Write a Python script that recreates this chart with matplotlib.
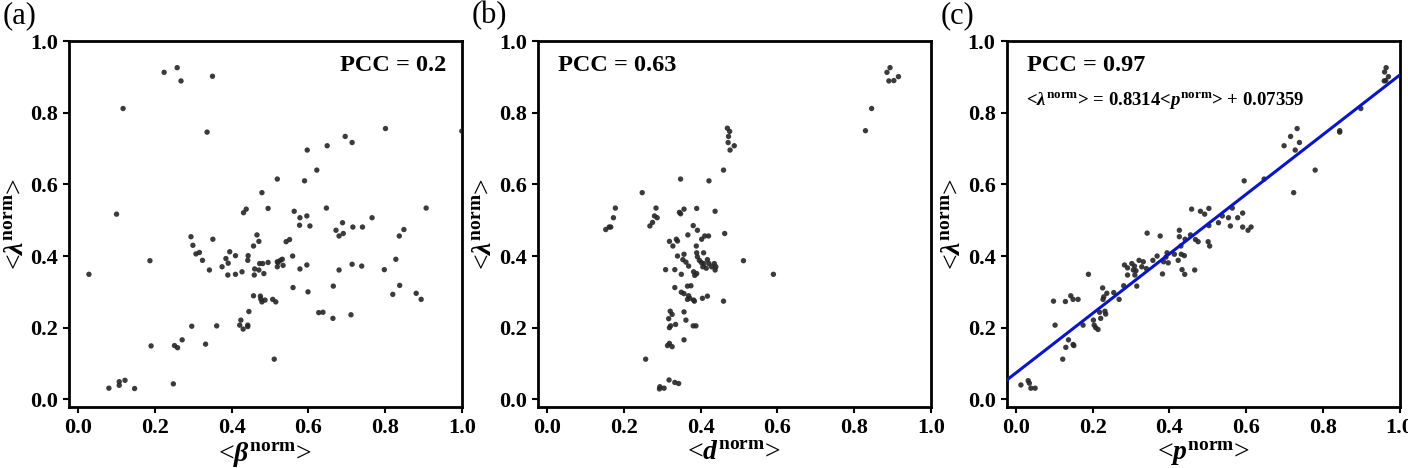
import numpy as np
import matplotlib
matplotlib.use("Agg")
import matplotlib.pyplot as plt

plt.rcParams['font.family'] = ['Liberation Serif', 'DejaVu Serif']
plt.rcParams['font.weight'] = 'bold'
plt.rcParams['mathtext.fontset'] = 'custom'
plt.rcParams['mathtext.rm'] = 'Liberation Serif:bold'
plt.rcParams['mathtext.it'] = 'Liberation Serif:bold:italic'
plt.rcParams['mathtext.bf'] = 'Liberation Serif:bold'

# panel (a): <beta_norm> vs <lambda_norm>
beta_a = [0.224, 0.258, 0.268, 0.350, 0.117, 0.336, 0.801, 1.000, 0.696, 0.714,
          0.597, 0.649, 0.622, 0.590, 0.519, 0.479, 0.100, 0.495, 0.438, 0.431,
          0.563, 0.596, 0.578, 0.647, 0.907, 0.766, 0.577, 0.604, 0.672, 0.689,
          0.716, 0.741, 0.680, 0.691, 0.837, 0.849, 0.294, 0.351, 0.299, 0.307,
          0.316, 0.324, 0.342, 0.187, 0.028, 0.375, 0.385, 0.391, 0.395, 0.390,
          0.410, 0.410, 0.427, 0.443, 0.442, 0.457, 0.466, 0.471, 0.459, 0.460,
          0.471, 0.473, 0.481, 0.484, 0.495, 0.457, 0.475, 0.476, 0.479, 0.487,
          0.507, 0.515, 0.519, 0.519, 0.527, 0.532, 0.534, 0.521, 0.542, 0.551,
          0.559, 0.560, 0.578, 0.596, 0.599, 0.627, 0.638, 0.665, 0.664, 0.680,
          0.711, 0.714, 0.739, 0.798, 0.828, 0.820, 0.838, 0.881, 0.894, 0.445,
          0.424, 0.421, 0.430, 0.442, 0.442, 0.361, 0.296, 0.332, 0.271, 0.251,
          0.259, 0.190, 0.511, 0.248, 0.080, 0.107, 0.107, 0.122, 0.147]
lam_a = [0.913, 0.926, 0.889, 0.902, 0.812, 0.746, 0.756, 0.749, 0.734, 0.717,
         0.696, 0.708, 0.640, 0.610, 0.615, 0.577, 0.517, 0.533, 0.531, 0.521,
         0.525, 0.512, 0.507, 0.534, 0.534, 0.507, 0.486, 0.484, 0.472, 0.493,
         0.481, 0.481, 0.456, 0.463, 0.456, 0.474, 0.454, 0.447, 0.430, 0.406,
         0.410, 0.388, 0.361, 0.387, 0.349, 0.370, 0.393, 0.380, 0.412, 0.347,
         0.401, 0.349, 0.356, 0.401, 0.388, 0.428, 0.459, 0.441, 0.347, 0.364,
         0.361, 0.379, 0.379, 0.351, 0.382, 0.289, 0.288, 0.280, 0.272, 0.277,
         0.279, 0.272, 0.384, 0.370, 0.388, 0.391, 0.374, 0.382, 0.440, 0.446,
         0.400, 0.312, 0.364, 0.375, 0.300, 0.242, 0.243, 0.316, 0.226, 0.361,
         0.236, 0.377, 0.372, 0.362, 0.391, 0.293, 0.318, 0.296, 0.279, 0.245,
         0.221, 0.207, 0.196, 0.207, 0.203, 0.205, 0.204, 0.154, 0.166, 0.150,
         0.144, 0.149, 0.112, 0.043, 0.031, 0.049, 0.039, 0.053, 0.030]

# panel (b): <d_norm> vs <lambda_norm>
d_b = [0.886, 0.894, 0.891, 0.904, 0.916, 0.846, 0.830, 0.470, 0.476, 0.473,
       0.472, 0.488, 0.477, 0.460, 0.422, 0.348, 0.248, 0.178, 0.173, 0.166,
       0.162, 0.153, 0.284, 0.280, 0.287, 0.275, 0.268, 0.357, 0.345, 0.348,
       0.390, 0.438, 0.381, 0.392, 0.367, 0.463, 0.403, 0.411, 0.421, 0.319,
       0.328, 0.337, 0.340, 0.389, 0.340, 0.357, 0.354, 0.362, 0.369, 0.390,
       0.392, 0.397, 0.402, 0.406, 0.409, 0.408, 0.418, 0.422, 0.415, 0.429,
       0.436, 0.440, 0.438, 0.309, 0.333, 0.350, 0.382, 0.385, 0.390, 0.333,
       0.366, 0.375, 0.350, 0.357, 0.369, 0.372, 0.366, 0.382, 0.384, 0.405,
       0.418, 0.460, 0.512, 0.590, 0.321, 0.326, 0.317, 0.357, 0.362, 0.319,
       0.322, 0.335, 0.381, 0.388, 0.314, 0.319, 0.326, 0.357, 0.257, 0.318,
       0.333, 0.343, 0.294, 0.305, 0.293]
lam_b = [0.913, 0.926, 0.889, 0.890, 0.901, 0.812, 0.750, 0.757, 0.748, 0.734,
         0.717, 0.708, 0.696, 0.640, 0.610, 0.615, 0.577, 0.534, 0.507, 0.481,
         0.481, 0.474, 0.534, 0.512, 0.507, 0.494, 0.484, 0.531, 0.522, 0.518,
         0.533, 0.525, 0.485, 0.472, 0.459, 0.463, 0.447, 0.456, 0.456, 0.441,
         0.428, 0.447, 0.442, 0.428, 0.400, 0.405, 0.390, 0.383, 0.372, 0.409,
         0.398, 0.388, 0.382, 0.370, 0.379, 0.409, 0.390, 0.379, 0.366, 0.370,
         0.379, 0.370, 0.361, 0.362, 0.362, 0.349, 0.356, 0.346, 0.351, 0.312,
         0.316, 0.317, 0.299, 0.295, 0.289, 0.282, 0.279, 0.277, 0.274, 0.282,
         0.288, 0.274, 0.387, 0.349, 0.246, 0.237, 0.225, 0.244, 0.221, 0.200,
         0.205, 0.209, 0.205, 0.205, 0.150, 0.156, 0.147, 0.166, 0.112, 0.054,
         0.047, 0.044, 0.035, 0.031, 0.029]

# panel (c): <p_norm> vs <lambda_norm>
p_c = [0.965, 0.961, 0.964, 0.971, 0.960, 0.899, 0.844, 0.844, 0.733, 0.716,
       0.739, 0.699, 0.728, 0.780, 0.724, 0.647, 0.595, 0.503, 0.458, 0.481,
       0.492, 0.564, 0.538, 0.554, 0.591, 0.528, 0.559, 0.578, 0.591, 0.605,
       0.613, 0.503, 0.426, 0.426, 0.342, 0.376, 0.455, 0.468, 0.475, 0.501,
       0.505, 0.441, 0.430, 0.394, 0.391, 0.368, 0.357, 0.385, 0.397, 0.413,
       0.423, 0.431, 0.439, 0.433, 0.440, 0.466, 0.382, 0.340, 0.321, 0.332,
       0.283, 0.291, 0.302, 0.309, 0.306, 0.313, 0.310, 0.291, 0.328, 0.315,
       0.281, 0.189, 0.255, 0.237, 0.229, 0.226, 0.227, 0.269, 0.143, 0.149,
       0.162, 0.129, 0.098, 0.102, 0.175, 0.202, 0.204, 0.208, 0.214, 0.221,
       0.232, 0.234, 0.218, 0.137, 0.130, 0.149, 0.151, 0.122, 0.013, 0.032,
       0.035, 0.039, 0.050]
lam_c = [0.926, 0.914, 0.890, 0.901, 0.889, 0.812, 0.750, 0.746, 0.756, 0.734,
         0.717, 0.708, 0.696, 0.640, 0.577, 0.615, 0.610, 0.533, 0.531, 0.525,
         0.517, 0.534, 0.512, 0.507, 0.520, 0.493, 0.484, 0.507, 0.481, 0.472,
         0.481, 0.485, 0.472, 0.454, 0.464, 0.456, 0.459, 0.446, 0.440, 0.440,
         0.428, 0.447, 0.428, 0.409, 0.397, 0.400, 0.388, 0.384, 0.381, 0.405,
         0.388, 0.405, 0.401, 0.362, 0.349, 0.361, 0.350, 0.365, 0.388, 0.384,
         0.375, 0.367, 0.379, 0.372, 0.361, 0.359, 0.347, 0.347, 0.370, 0.316,
         0.317, 0.349, 0.298, 0.296, 0.286, 0.311, 0.279, 0.279, 0.289, 0.279,
         0.279, 0.273, 0.274, 0.207, 0.207, 0.221, 0.207, 0.200, 0.195, 0.226,
         0.246, 0.238, 0.243, 0.166, 0.145, 0.153, 0.150, 0.112, 0.040, 0.052,
         0.045, 0.031, 0.031]

fit_slope = 0.8314
fit_icpt = 0.07359

ticks = [0.0, 0.2, 0.4, 0.6, 0.8, 1.0]
tick_labels = ['0.0', '0.2', '0.4', '0.6', '0.8', '1.0']

fig = plt.figure(figsize=(14.08, 4.68), dpi=100)
lefts = [0.049, 0.382, 0.715]
axes = [fig.add_axes([l, 0.130, 0.279, 0.782]) for l in lefts]

panels = [(beta_a, lam_a, r'<$\beta^{\rm norm}$>', '(a)'),
          (d_b, lam_b, r'<$d^{\rm norm}$>', '(b)'),
          (p_c, lam_c, r'<$p^{\rm norm}$>', '(c)')]

for ax, (xv, yv, xl, tag) in zip(axes, panels):
    ax.scatter(xv, yv, s=15, color='#262626', alpha=0.9, edgecolors='none', zorder=3)
    ax.set_xlim(-0.024, 1.0)
    ax.set_ylim(-0.022, 1.0)
    ax.set_xticks(ticks)
    ax.set_xticklabels(tick_labels)
    ax.set_yticks(ticks)
    ax.set_yticklabels(tick_labels)
    ax.tick_params(direction='out', length=4, width=1.5, labelsize=16, pad=4)
    for sp in ax.spines.values():
        sp.set_linewidth(2)
    ax.set_xlabel(xl, fontsize=20, labelpad=1)
    ax.set_ylabel(r'<$\lambda^{\rm norm}$>', fontsize=20, labelpad=1)
    pos = ax.get_position()
    fig.text(pos.x0 - 0.047, 0.998, tag, fontsize=22, fontweight='normal',
             ha='left', va='top')

axes[0].text(0.96, 0.932, 'PCC = 0.2', fontsize=17.5, ha='right', va='center')
axes[1].text(0.028, 0.932, 'PCC = 0.63', fontsize=17.5, ha='left', va='center')
axes[2].text(0.029, 0.932, 'PCC = 0.97', fontsize=17.5, ha='left', va='center')
axes[2].text(0.026, 0.835,
             r'<$\lambda^{\rm norm}$> = 0.8314<$p^{\rm norm}$> + 0.07359',
             fontsize=13.5, ha='left', va='center')

xfit = np.array([-0.024, 1.0])
axes[2].plot(xfit, fit_slope * xfit + fit_icpt, color='#0a14c8', lw=2.2, zorder=4)

fig.savefig('out.png', dpi=100)
